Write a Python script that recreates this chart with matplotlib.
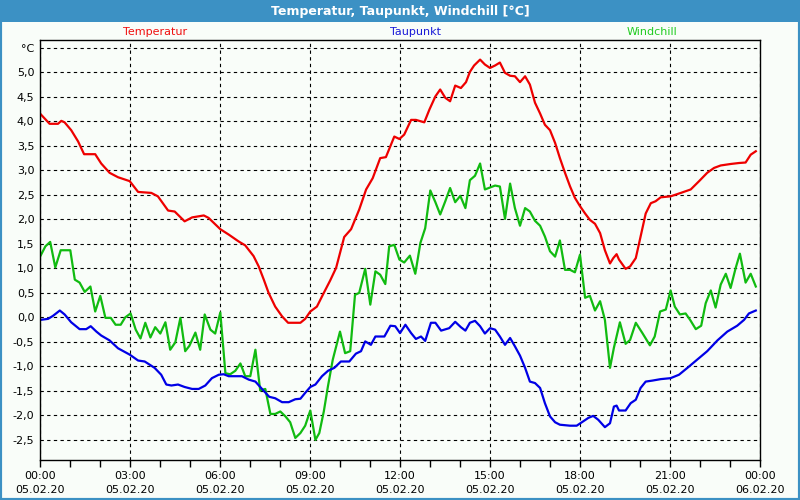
import matplotlib
matplotlib.use("Agg")
import matplotlib.pyplot as plt
from matplotlib.patches import Rectangle

# Temperatur (hours since 05.02.20 00:00, °C)
temp_h = [0.0, 0.32, 0.6, 0.71, 0.82, 1.04, 1.27, 1.47, 1.84, 2.04, 2.32, 2.6, 2.99,
          3.27, 3.71, 3.93, 4.27, 4.49, 4.82, 5.07, 5.46, 5.62, 6.01, 6.29, 6.62, 6.84,
          7.12, 7.29, 7.46, 7.62, 7.84, 8.07, 8.27, 8.68, 8.84, 9.01, 9.23, 9.46, 9.67,
          9.87, 10.14, 10.37, 10.64, 10.87, 11.09, 11.34, 11.53, 11.81, 11.98, 12.14,
          12.37, 12.53, 12.81, 12.98, 13.18, 13.34, 13.51, 13.67, 13.84, 14.03, 14.2,
          14.33, 14.47, 14.67, 14.83, 15.0, 15.17, 15.33, 15.5, 15.67, 15.83, 16.0,
          16.17, 16.33, 16.5, 16.67, 16.83, 17.0, 17.17, 17.33, 17.5, 17.67, 17.83,
          18.0, 18.17, 18.33, 18.5, 18.67, 18.83, 19.0, 19.11, 19.22, 19.3, 19.52,
          19.67, 19.86, 20.02, 20.19, 20.36, 20.52, 20.69, 21.02, 21.36, 21.69, 21.97,
          22.24, 22.47, 22.69, 23.02, 23.3, 23.52, 23.69, 23.86]
temp_v = [4.16, 3.95, 3.95, 4.01, 3.98, 3.82, 3.59, 3.33, 3.33, 3.14, 2.95, 2.86, 2.78,
          2.56, 2.54, 2.47, 2.18, 2.16, 1.96, 2.04, 2.08, 2.03, 1.80, 1.69, 1.55, 1.47,
          1.25, 1.04, 0.77, 0.50, 0.22, 0.02, -0.11, -0.11, -0.03, 0.12, 0.22, 0.50, 0.75,
          1.01, 1.64, 1.80, 2.20, 2.61, 2.84, 3.25, 3.27, 3.69, 3.64, 3.73,
          4.03, 4.03, 3.98, 4.24, 4.51, 4.65, 4.48, 4.41, 4.73, 4.68, 4.80,
          5.01, 5.14, 5.26, 5.16, 5.09, 5.14, 5.20, 4.99, 4.93, 4.92, 4.80,
          4.92, 4.75, 4.38, 4.16, 3.93, 3.82, 3.56, 3.25, 2.95, 2.67, 2.44,
          2.27, 2.12, 1.99, 1.91, 1.72, 1.37, 1.10, 1.21, 1.29, 1.18, 0.99,
          1.04, 1.21, 1.65, 2.12, 2.33, 2.37, 2.45, 2.47, 2.54, 2.61, 2.78,
          2.95, 3.05, 3.10, 3.13, 3.15, 3.16, 3.32, 3.39]

# Taupunkt
dew_h = [0.02, 0.27, 0.43, 0.66, 0.82, 1.04, 1.32, 1.54, 1.69, 1.88, 2.04, 2.32, 2.6,
         2.99, 3.27, 3.49, 3.82, 4.04, 4.21, 4.38, 4.6, 4.82, 5.07, 5.29, 5.51, 5.73,
         5.96, 6.12, 6.29, 6.73, 6.96, 7.18, 7.4, 7.64, 7.84, 8.07, 8.29, 8.51, 8.68,
         8.84, 9.01, 9.18, 9.4, 9.6, 9.81, 10.03, 10.31, 10.53, 10.7, 10.84, 11.03,
         11.18, 11.48, 11.68, 11.84, 12.0, 12.18, 12.37, 12.53, 12.7, 12.84, 13.03,
         13.18, 13.37, 13.64, 13.84, 14.03, 14.18, 14.33, 14.5, 14.67, 14.83, 15.0,
         15.17, 15.33, 15.5, 15.67, 15.83, 16.0, 16.17, 16.33, 16.5, 16.67, 16.83,
         17.0, 17.17, 17.33, 17.67, 17.89, 18.11, 18.28, 18.44, 18.61, 18.83, 19.0,
         19.13, 19.22, 19.3, 19.52, 19.69, 19.86, 20.02, 20.19, 20.41, 20.69, 21.02,
         21.3, 21.58, 21.91, 22.24, 22.58, 22.91, 23.24, 23.47, 23.63, 23.86]
dew_v = [-0.05, -0.03, 0.03, 0.14, 0.06, -0.10, -0.24, -0.24, -0.18, -0.29, -0.37, -0.47,
         -0.63, -0.76, -0.88, -0.90, -1.03, -1.17, -1.37, -1.39, -1.37, -1.42, -1.46,
         -1.46, -1.39, -1.24, -1.17, -1.16, -1.20, -1.20, -1.27, -1.31, -1.46, -1.62,
         -1.65, -1.73, -1.73, -1.67, -1.66, -1.54, -1.42, -1.37, -1.20, -1.09, -1.03,
         -0.90, -0.90, -0.74, -0.69, -0.49, -0.56, -0.39, -0.39, -0.17, -0.18, -0.32,
         -0.15, -0.32, -0.44, -0.39, -0.48, -0.11, -0.11, -0.27, -0.22, -0.09, -0.20,
         -0.27, -0.11, -0.07, -0.18, -0.33, -0.22, -0.25, -0.39, -0.56, -0.42, -0.59,
         -0.78, -1.03, -1.31, -1.34, -1.44, -1.75, -2.02, -2.14, -2.19, -2.21, -2.21,
         -2.12, -2.05, -2.01, -2.09, -2.24, -2.16, -1.82, -1.80, -1.90, -1.90, -1.75,
         -1.68, -1.44, -1.31, -1.29, -1.26, -1.24, -1.17, -1.03, -0.86, -0.69, -0.47,
         -0.29, -0.17, -0.05, 0.08, 0.14]

# Windchill
wind_h = [0.02, 0.18, 0.34, 0.51, 0.69, 1.01, 1.16, 1.32, 1.49, 1.68, 1.84, 2.01, 2.18,
          2.36, 2.52, 2.69, 2.84, 3.02, 3.19, 3.35, 3.51, 3.68, 3.84, 4.01, 4.18, 4.34,
          4.51, 4.68, 4.84, 4.98, 5.18, 5.34, 5.49, 5.68, 5.84, 6.01, 6.18, 6.34, 6.51,
          6.68, 6.84, 7.01, 7.18, 7.34, 7.51, 7.68, 7.84, 8.01, 8.18, 8.34, 8.51, 8.68,
          8.84, 9.01, 9.18, 9.31, 9.46, 9.6, 9.76, 10.0, 10.17, 10.34, 10.5, 10.64,
          10.84, 11.01, 11.18, 11.34, 11.51, 11.64, 11.81, 11.98, 12.14, 12.33, 12.51,
          12.68, 12.84, 13.01, 13.18, 13.34, 13.51, 13.67, 13.84, 14.01, 14.18, 14.33,
          14.5, 14.67, 14.83, 15.0, 15.17, 15.33, 15.5, 15.67, 15.83, 16.0, 16.17,
          16.33, 16.5, 16.67, 16.83, 17.0, 17.17, 17.33, 17.5, 17.67, 17.83, 18.0,
          18.17, 18.33, 18.5, 18.67, 18.83, 19.0, 19.13, 19.33, 19.52, 19.67, 19.86,
          20.08, 20.33, 20.49, 20.67, 20.86, 21.02, 21.16, 21.33, 21.52, 21.67, 21.86,
          22.04, 22.19, 22.36, 22.52, 22.69, 22.86, 23.02, 23.19, 23.33, 23.52, 23.69,
          23.86]
wind_v = [1.26, 1.45, 1.54, 1.02, 1.37, 1.37, 0.77, 0.71, 0.52, 0.63, 0.12, 0.44, -0.01,
          -0.01, -0.15, -0.15, 0.0, 0.08, -0.25, -0.43, -0.11, -0.41, -0.20, -0.33, -0.10,
          -0.66, -0.51, -0.01, -0.69, -0.58, -0.31, -0.66, 0.06, -0.25, -0.33, 0.10, -1.14,
          -1.16, -1.09, -0.94, -1.20, -1.20, -0.66, -1.49, -1.46, -1.97, -1.97, -1.92,
          -2.02, -2.14, -2.46, -2.36, -2.21, -1.90, -2.50, -2.36, -1.92, -1.40, -0.86,
          -0.29, -0.73, -0.69, 0.46, 0.50, 0.99, 0.26, 0.94, 0.87, 0.68, 1.45, 1.48,
          1.18, 1.12, 1.26, 0.89, 1.52, 1.82, 2.59, 2.35, 2.10, 2.37, 2.64, 2.35, 2.48,
          2.23, 2.80, 2.89, 3.14, 2.61, 2.65, 2.69, 2.67, 2.01, 2.73, 2.23, 1.87, 2.23,
          2.16, 1.97, 1.87, 1.65, 1.35, 1.24, 1.57, 0.97, 0.97, 0.92, 1.28, 0.40, 0.44,
          0.14, 0.33, -0.05, -1.03, -0.62, -0.10, -0.54, -0.46, -0.11, -0.32, -0.57,
          -0.39, 0.12, 0.16, 0.55, 0.22, 0.06, 0.08, -0.05, -0.24, -0.17, 0.29, 0.55,
          0.20, 0.67, 0.89, 0.60, 1.01, 1.30, 0.71, 0.89, 0.63]

y_ticks = [-2.5, -2.0, -1.5, -1.0, -0.5, 0.0, 0.5, 1.0, 1.5, 2.0, 2.5, 3.0, 3.5, 4.0, 4.5, 5.0, 5.5]
y_labels = ["-2,5", "-2,0", "-1,5", "-1,0", "-0,5", "0,0", "0,5", "1,0", "1,5", "2,0",
            "2,5", "3,0", "3,5", "4,0", "4,5", "5,0", "°C"]
x_ticks = [0, 3, 6, 9, 12, 15, 18, 21, 24]
x_labels = ["00:00\n05.02.20", "03:00\n05.02.20", "06:00\n05.02.20", "09:00\n05.02.20",
            "12:00\n05.02.20", "15:00\n05.02.20", "18:00\n05.02.20", "21:00\n05.02.20",
            "00:00\n06.02.20"]

bg = "#f9fdf9"
frame_blue = "#3c91c4"

fig = plt.figure(figsize=(8, 5), dpi=100, facecolor=bg)

# window frame + title bar
fig.patches.append(Rectangle((0, 0), 1, 1, transform=fig.transFigure,
                             facecolor="none", edgecolor=frame_blue, linewidth=3))
fig.patches.append(Rectangle((0, 1 - 22 / 500), 1, 22 / 500, transform=fig.transFigure,
                             facecolor=frame_blue, edgecolor="none"))
fig.text(0.5, 1 - 11 / 500, "Temperatur, Taupunkt, Windchill [°C]", ha="center",
         va="center", color="white", fontsize=9, fontweight="bold")

fig.text(155 / 800, 1 - 32 / 500, "Temperatur", color="#f01010", ha="center", va="center", fontsize=8)
fig.text(415 / 800, 1 - 32 / 500, "Taupunkt", color="#1a1ad8", ha="center", va="center", fontsize=8)
fig.text(652 / 800, 1 - 32 / 500, "Windchill", color="#22cc22", ha="center", va="center", fontsize=8)

ax = fig.add_axes([40 / 800, 1 - 460 / 500, 720 / 800, 420 / 500])
ax.set_facecolor(bg)

ax.plot(wind_h, wind_v, color="#11bb11", linewidth=1.6)
ax.plot(dew_h, dew_v, color="#0000e6", linewidth=1.6)
ax.plot(temp_h, temp_v, color="#ee0000", linewidth=1.6)

ax.set_xlim(0, 24)
ax.set_ylim(-2.91, 5.66)
ax.set_yticks(y_ticks)
ax.set_yticklabels(y_labels, fontsize=8)
ax.set_xticks(x_ticks)
ax.set_xticklabels(x_labels, fontsize=8, linespacing=1.45)
ax.set_xticks(range(0, 25), minor=True)
ax.tick_params(axis="y", length=0, pad=4)
ax.tick_params(axis="x", which="both", direction="out", length=5, width=1, pad=3)
ax.grid(True, color="black", linestyle=(0, (3, 3)), linewidth=0.8)

for s in ax.spines.values():
    s.set_linewidth(1.0)
    s.set_color("black")

fig.savefig("out.png", dpi=100, facecolor=bg)
